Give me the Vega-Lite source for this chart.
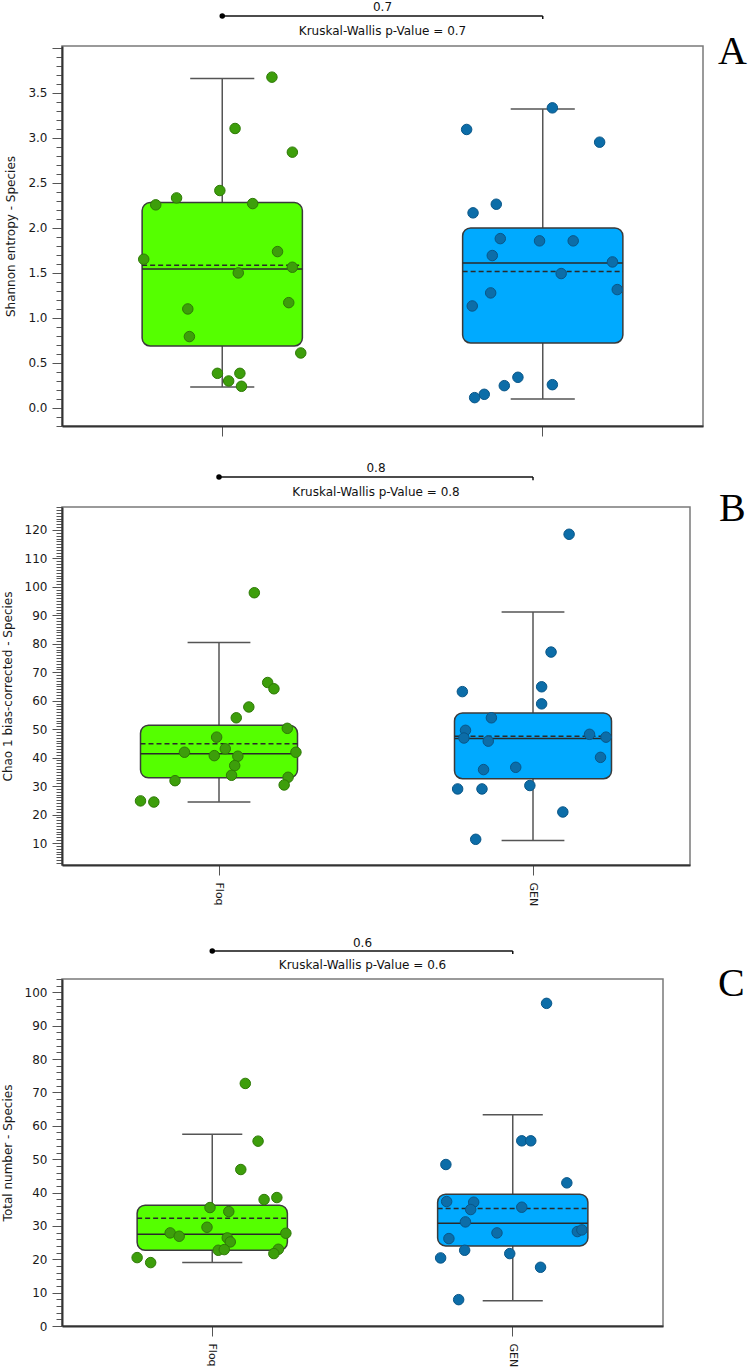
{
  "$schema": "https://vega.github.io/schema/vega-lite/v6.json",
  "background": "white",
  "padding": {"left": 0, "top": 0, "right": 0, "bottom": 0},
  "spacing": 23,
  "config": {
    "font": "DejaVu Sans",
    "view": {"stroke": "#7a7a7a", "strokeWidth": 1.5},
    "axis": {"labelFont": "DejaVu Sans", "titleFont": "DejaVu Sans", "labelColor": "#1a1a1a", "titleColor": "#1a1a1a", "domainColor": "#333", "domainWidth": 2, "tickColor": "#555", "tickWidth": 1, "grid": false, "titleFontWeight": "normal"}
  },
  "datasets": {
    "statsA": [
      {"group": "Floq", "lo": 0.233, "q1": 0.689, "med": 1.544, "mean": 1.585, "q3": 2.281, "hi": 3.659},
      {"group": "GEN", "lo": 0.1, "q1": 0.722, "med": 1.611, "mean": 1.515, "q3": 2.0, "hi": 3.319}
    ],
    "ptsA": [
      {"group": "Floq", "jit": 0.62, "v": 3.674}, {"group": "Floq", "jit": 0.16, "v": 3.104}, {"group": "Floq", "jit": 0.875, "v": 2.841},
      {"group": "Floq", "jit": -0.03, "v": 2.415}, {"group": "Floq", "jit": -0.57, "v": 2.333}, {"group": "Floq", "jit": -0.83, "v": 2.256},
      {"group": "Floq", "jit": 0.38, "v": 2.27}, {"group": "Floq", "jit": 0.69, "v": 1.737}, {"group": "Floq", "jit": -0.98, "v": 1.652},
      {"group": "Floq", "jit": 0.875, "v": 1.563}, {"group": "Floq", "jit": 0.2, "v": 1.5}, {"group": "Floq", "jit": -0.43, "v": 1.1},
      {"group": "Floq", "jit": 0.83, "v": 1.17}, {"group": "Floq", "jit": -0.41, "v": 0.793}, {"group": "Floq", "jit": 0.98, "v": 0.611},
      {"group": "Floq", "jit": -0.06, "v": 0.385}, {"group": "Floq", "jit": 0.22, "v": 0.385}, {"group": "Floq", "jit": 0.08, "v": 0.3},
      {"group": "Floq", "jit": 0.24, "v": 0.241},
      {"group": "GEN", "jit": 0.12, "v": 3.333}, {"group": "GEN", "jit": -0.95, "v": 3.093}, {"group": "GEN", "jit": 0.71, "v": 2.952},
      {"group": "GEN", "jit": -0.58, "v": 2.263}, {"group": "GEN", "jit": -0.87, "v": 2.167}, {"group": "GEN", "jit": -0.53, "v": 1.881},
      {"group": "GEN", "jit": -0.04, "v": 1.856}, {"group": "GEN", "jit": 0.38, "v": 1.856}, {"group": "GEN", "jit": -0.63, "v": 1.693},
      {"group": "GEN", "jit": 0.87, "v": 1.622}, {"group": "GEN", "jit": 0.23, "v": 1.493}, {"group": "GEN", "jit": 0.93, "v": 1.315},
      {"group": "GEN", "jit": -0.65, "v": 1.278}, {"group": "GEN", "jit": -0.88, "v": 1.133}, {"group": "GEN", "jit": -0.31, "v": 0.341},
      {"group": "GEN", "jit": 0.12, "v": 0.259}, {"group": "GEN", "jit": -0.48, "v": 0.248}, {"group": "GEN", "jit": -0.73, "v": 0.152},
      {"group": "GEN", "jit": -0.85, "v": 0.115}
    ],
    "annA": [{"g1": "Floq", "g2": "GEN", "p": "0.7", "test": "Kruskal-Wallis p-Value = 0.7", "panel": "A"}],
    "statsB": [
      {"group": "Floq", "lo": 24.4, "q1": 32.9, "med": 41.4, "mean": 44.9, "q3": 51.4, "hi": 80.5},
      {"group": "GEN", "lo": 10.9, "q1": 32.6, "med": 46.7, "mean": 47.5, "q3": 55.7, "hi": 91.2}
    ],
    "ptsB": [
      {"group": "Floq", "jit": 0.45, "v": 97.95}, {"group": "Floq", "jit": 0.62, "v": 66.4}, {"group": "Floq", "jit": 0.7, "v": 64.2},
      {"group": "Floq", "jit": 0.38, "v": 57.8}, {"group": "Floq", "jit": 0.22, "v": 54.0}, {"group": "Floq", "jit": 0.87, "v": 50.3},
      {"group": "Floq", "jit": -0.03, "v": 47.2}, {"group": "Floq", "jit": 0.08, "v": 43.1}, {"group": "Floq", "jit": -0.44, "v": 41.9},
      {"group": "Floq", "jit": 0.98, "v": 41.9}, {"group": "Floq", "jit": -0.06, "v": 40.7}, {"group": "Floq", "jit": 0.24, "v": 40.5},
      {"group": "Floq", "jit": 0.2, "v": 37.2}, {"group": "Floq", "jit": 0.16, "v": 33.8}, {"group": "Floq", "jit": -0.56, "v": 31.9},
      {"group": "Floq", "jit": 0.88, "v": 33.1}, {"group": "Floq", "jit": 0.83, "v": 30.4}, {"group": "Floq", "jit": -1.0, "v": 24.8},
      {"group": "Floq", "jit": -0.83, "v": 24.4},
      {"group": "GEN", "jit": 0.46, "v": 118.5}, {"group": "GEN", "jit": 0.23, "v": 77.1}, {"group": "GEN", "jit": -0.9, "v": 63.2},
      {"group": "GEN", "jit": 0.11, "v": 64.9}, {"group": "GEN", "jit": 0.11, "v": 58.9}, {"group": "GEN", "jit": -0.53, "v": 54.0},
      {"group": "GEN", "jit": -0.86, "v": 49.6}, {"group": "GEN", "jit": -0.88, "v": 46.9}, {"group": "GEN", "jit": -0.57, "v": 45.8},
      {"group": "GEN", "jit": 0.72, "v": 48.2}, {"group": "GEN", "jit": 0.93, "v": 47.2}, {"group": "GEN", "jit": 0.86, "v": 40.1},
      {"group": "GEN", "jit": -0.63, "v": 35.8}, {"group": "GEN", "jit": -0.22, "v": 36.6}, {"group": "GEN", "jit": -0.04, "v": 30.2},
      {"group": "GEN", "jit": -0.96, "v": 29.0}, {"group": "GEN", "jit": -0.65, "v": 29.0}, {"group": "GEN", "jit": 0.38, "v": 20.9},
      {"group": "GEN", "jit": -0.73, "v": 11.3}
    ],
    "annB": [{"g1": "Floq", "g2": "GEN", "p": "0.8", "test": "Kruskal-Wallis p-Value = 0.8", "panel": "B"}],
    "statsC": [
      {"group": "Floq", "lo": 19.0, "q1": 22.7, "med": 27.5, "mean": 32.3, "q3": 36.2, "hi": 57.5},
      {"group": "GEN", "lo": 7.6, "q1": 24.0, "med": 30.8, "mean": 35.2, "q3": 39.5, "hi": 63.3}
    ],
    "ptsC": [
      {"group": "Floq", "jit": 0.44, "v": 72.7}, {"group": "Floq", "jit": 0.61, "v": 55.4}, {"group": "Floq", "jit": 0.38, "v": 46.9},
      {"group": "Floq", "jit": 0.86, "v": 38.5}, {"group": "Floq", "jit": 0.69, "v": 37.9}, {"group": "Floq", "jit": -0.03, "v": 35.5},
      {"group": "Floq", "jit": 0.22, "v": 34.3}, {"group": "Floq", "jit": -0.07, "v": 29.6}, {"group": "Floq", "jit": -0.56, "v": 27.9},
      {"group": "Floq", "jit": -0.44, "v": 26.9}, {"group": "Floq", "jit": 0.98, "v": 27.8}, {"group": "Floq", "jit": 0.2, "v": 26.4},
      {"group": "Floq", "jit": 0.24, "v": 25.2}, {"group": "Floq", "jit": 0.08, "v": 22.7}, {"group": "Floq", "jit": 0.16, "v": 22.9},
      {"group": "Floq", "jit": 0.88, "v": 23.0}, {"group": "Floq", "jit": 0.82, "v": 21.7}, {"group": "Floq", "jit": -1.0, "v": 20.5},
      {"group": "Floq", "jit": -0.82, "v": 19.0},
      {"group": "GEN", "jit": 0.45, "v": 96.7}, {"group": "GEN", "jit": 0.12, "v": 55.5}, {"group": "GEN", "jit": 0.24, "v": 55.5},
      {"group": "GEN", "jit": -0.89, "v": 48.4}, {"group": "GEN", "jit": 0.72, "v": 42.9}, {"group": "GEN", "jit": -0.88, "v": 37.3},
      {"group": "GEN", "jit": -0.52, "v": 37.1}, {"group": "GEN", "jit": -0.56, "v": 34.9}, {"group": "GEN", "jit": 0.12, "v": 35.6},
      {"group": "GEN", "jit": -0.63, "v": 31.2}, {"group": "GEN", "jit": -0.21, "v": 27.9}, {"group": "GEN", "jit": 0.86, "v": 28.3},
      {"group": "GEN", "jit": 0.92, "v": 28.8}, {"group": "GEN", "jit": -0.85, "v": 26.2}, {"group": "GEN", "jit": -0.64, "v": 22.7},
      {"group": "GEN", "jit": -0.04, "v": 21.7}, {"group": "GEN", "jit": -0.96, "v": 20.4}, {"group": "GEN", "jit": 0.37, "v": 17.6},
      {"group": "GEN", "jit": -0.72, "v": 7.9}
    ],
    "annC": [{"g1": "Floq", "g2": "GEN", "p": "0.6", "test": "Kruskal-Wallis p-Value = 0.6", "panel": "C"}]
  },
  "vconcat": [
    {
      "width": 641, "height": 380,
      "resolve": {"scale": {"xOffset": "independent"}},
      "layer": [
        {"data": {"name": "statsA"}, "mark": {"type": "rule", "color": "#555", "strokeWidth": 1.5},
         "encoding": {
           "x": {"field": "group", "type": "nominal", "scale": {"type": "band", "domain": ["Floq", "GEN"], "paddingInner": 0, "paddingOuter": 0},
                 "axis": {"title": null, "labels": false, "tickSize": 10}},
           "y": {"field": "lo", "type": "quantitative", "scale": {"domain": [-0.2, 4.02], "nice": false, "zero": false},
                 "axis": {"title": "Shannon entropy - Species", "titleFontSize": 12, "titlePadding": 10, "labelFontSize": 12, "labelPadding": 5,
                          "tickCount": 42, "format": ".1f", "labelOverlap": false, "labelFlush": false, "labelBound": false,
                          "labelExpr": "abs(datum.value*2-round(datum.value*2))<0.000001 && datum.value>-0.01 && datum.value<3.9 ? datum.label : ''",
                          "tickSize": {"condition": {"test": "abs(datum.value*2-round(datum.value*2))<0.000001", "value": 10}, "value": 6}}},
           "y2": {"field": "hi"}}},
        {"data": {"name": "statsA"}, "mark": {"type": "rule", "color": "#555", "strokeWidth": 1.5},
         "encoding": {
           "x": {"field": "group", "type": "nominal", "bandPosition": 0.4, "scale": {"type": "band", "domain": ["Floq", "GEN"], "paddingInner": 0, "paddingOuter": 0}},
           "x2": {"field": "group", "bandPosition": 0.6},
           "y": {"field": "lo", "type": "quantitative", "scale": {"domain": [-0.2, 4.02], "nice": false, "zero": false}}}},
        {"data": {"name": "statsA"}, "mark": {"type": "rule", "color": "#555", "strokeWidth": 1.5},
         "encoding": {
           "x": {"field": "group", "type": "nominal", "bandPosition": 0.4, "scale": {"type": "band", "domain": ["Floq", "GEN"], "paddingInner": 0, "paddingOuter": 0}},
           "x2": {"field": "group", "bandPosition": 0.6},
           "y": {"field": "hi", "type": "quantitative", "scale": {"domain": [-0.2, 4.02], "nice": false, "zero": false}}}},
        {"data": {"name": "statsA"}, "mark": {"type": "bar", "width": {"band": 0.5}, "cornerRadius": 8, "stroke": "#3a3a3a", "strokeWidth": 1.5},
         "encoding": {
           "x": {"field": "group", "type": "nominal", "scale": {"type": "band", "domain": ["Floq", "GEN"], "paddingInner": 0, "paddingOuter": 0}},
           "y": {"field": "q1", "type": "quantitative", "scale": {"domain": [-0.2, 4.02], "nice": false, "zero": false}},
           "y2": {"field": "q3"},
           "fill": {"field": "group", "type": "nominal", "scale": {"domain": ["Floq", "GEN"], "range": ["#55FF00", "#00AAFF"]}, "legend": null}}},
        {"data": {"name": "statsA"}, "mark": {"type": "rule", "color": "#2a2a2a", "strokeWidth": 1.5},
         "encoding": {
           "x": {"field": "group", "type": "nominal", "bandPosition": 0.25, "scale": {"type": "band", "domain": ["Floq", "GEN"], "paddingInner": 0, "paddingOuter": 0}},
           "x2": {"field": "group", "bandPosition": 0.75},
           "y": {"field": "med", "type": "quantitative", "scale": {"domain": [-0.2, 4.02], "nice": false, "zero": false}}}},
        {"data": {"name": "statsA"}, "mark": {"type": "rule", "color": "#2a2a2a", "strokeWidth": 1.5, "strokeDash": [5, 3]},
         "encoding": {
           "x": {"field": "group", "type": "nominal", "bandPosition": 0.25, "scale": {"type": "band", "domain": ["Floq", "GEN"], "paddingInner": 0, "paddingOuter": 0}},
           "x2": {"field": "group", "bandPosition": 0.75},
           "y": {"field": "mean", "type": "quantitative", "scale": {"domain": [-0.2, 4.02], "nice": false, "zero": false}}}},
        {"data": {"name": "ptsA"}, "mark": {"type": "circle", "size": 110, "opacity": 1, "strokeWidth": 1},
         "encoding": {
           "x": {"field": "group", "type": "nominal", "scale": {"type": "band", "domain": ["Floq", "GEN"], "paddingInner": 0, "paddingOuter": 0}},
           "xOffset": {"field": "jit", "type": "quantitative", "scale": {"domain": [-2, 2]}},
           "y": {"field": "v", "type": "quantitative", "scale": {"domain": [-0.2, 4.02], "nice": false, "zero": false}},
           "color": {"field": "group", "type": "nominal", "scale": {"domain": ["Floq", "GEN"], "range": ["#3D9E0B", "#0C6DA8"]}, "legend": null},
           "stroke": {"field": "group", "type": "nominal", "scale": {"domain": ["Floq", "GEN"], "range": ["#2E7A06", "#095688"]}, "legend": null}}},
        {"data": {"name": "annA"}, "mark": {"type": "rule", "color": "#111", "strokeWidth": 1.5, "clip": false},
         "encoding": {
           "x": {"field": "g1", "type": "nominal", "bandPosition": 0.5, "scale": {"type": "band", "domain": ["Floq", "GEN"], "paddingInner": 0, "paddingOuter": 0}},
           "x2": {"field": "g2", "bandPosition": 0.5},
           "y": {"datum": 4.352, "type": "quantitative", "scale": {"domain": [-0.2, 4.02], "nice": false, "zero": false}}}},
        {"data": {"name": "annA"}, "mark": {"type": "rule", "color": "#111", "strokeWidth": 1.5, "clip": false},
         "encoding": {
           "x": {"field": "g2", "type": "nominal", "bandPosition": 0.5, "scale": {"type": "band", "domain": ["Floq", "GEN"], "paddingInner": 0, "paddingOuter": 0}},
           "y": {"datum": 4.352, "type": "quantitative", "scale": {"domain": [-0.2, 4.02], "nice": false, "zero": false}},
           "y2": {"datum": 4.32}}},
        {"data": {"name": "annA"}, "mark": {"type": "circle", "size": 30, "color": "#000", "opacity": 1, "clip": false},
         "encoding": {
           "x": {"field": "g1", "type": "nominal", "bandPosition": 0.5, "scale": {"type": "band", "domain": ["Floq", "GEN"], "paddingInner": 0, "paddingOuter": 0}},
           "y": {"datum": 4.352, "type": "quantitative", "scale": {"domain": [-0.2, 4.02], "nice": false, "zero": false}}}},
        {"data": {"name": "annA"}, "mark": {"type": "text", "fontSize": 12, "color": "#111", "align": "center", "baseline": "middle", "clip": false},
         "encoding": {
           "x": {"field": "g1", "type": "nominal", "bandPosition": 1, "scale": {"type": "band", "domain": ["Floq", "GEN"], "paddingInner": 0, "paddingOuter": 0}},
           "y": {"datum": 4.45, "type": "quantitative", "scale": {"domain": [-0.2, 4.02], "nice": false, "zero": false}},
           "text": {"field": "p"}}},
        {"data": {"name": "annA"}, "mark": {"type": "text", "fontSize": 12, "color": "#111", "align": "center", "baseline": "middle", "clip": false},
         "encoding": {
           "x": {"field": "g1", "type": "nominal", "bandPosition": 1, "scale": {"type": "band", "domain": ["Floq", "GEN"], "paddingInner": 0, "paddingOuter": 0}},
           "y": {"datum": 4.186, "type": "quantitative", "scale": {"domain": [-0.2, 4.02], "nice": false, "zero": false}},
           "text": {"field": "test"}}},
        {"data": {"name": "annA"}, "mark": {"type": "text", "font": "Liberation Serif", "fontSize": 40, "color": "#000", "align": "left", "baseline": "alphabetic", "dx": 15, "clip": false},
         "encoding": {
           "x": {"field": "g2", "type": "nominal", "bandPosition": 1, "scale": {"type": "band", "domain": ["Floq", "GEN"], "paddingInner": 0, "paddingOuter": 0}},
           "y": {"datum": 3.82, "type": "quantitative", "scale": {"domain": [-0.2, 4.02], "nice": false, "zero": false}},
           "text": {"field": "panel"}}}
      ]
    },
    {
      "width": 628, "height": 358,
      "resolve": {"scale": {"xOffset": "independent"}},
      "layer": [
        {"data": {"name": "statsB"}, "mark": {"type": "rule", "color": "#555", "strokeWidth": 1.5},
         "encoding": {
           "x": {"field": "group", "type": "nominal", "scale": {"type": "band", "domain": ["Floq", "GEN"], "paddingInner": 0, "paddingOuter": 0},
                 "axis": {"title": " ", "titleFontSize": 4, "titlePadding": 2, "labelAngle": 90, "labelFontSize": 11, "labelPadding": 7, "tickSize": 10}},
           "y": {"field": "lo", "type": "quantitative", "scale": {"domain": [2.27, 128.08], "nice": false, "zero": false},
                 "axis": {"title": "Chao 1 bias-corrected - Species", "titleFontSize": 12, "titlePadding": 10, "labelFontSize": 12, "labelPadding": 5,
                          "tickCount": 126, "labelOverlap": false, "labelFlush": false, "labelBound": false,
                          "labelExpr": "datum.value % 10 === 0 && datum.value <= 120 ? datum.label : ''",
                          "tickSize": {"condition": {"test": "datum.value % 10 === 0", "value": 10}, "value": 6}}},
           "y2": {"field": "hi"}}},
        {"data": {"name": "statsB"}, "mark": {"type": "rule", "color": "#555", "strokeWidth": 1.5},
         "encoding": {
           "x": {"field": "group", "type": "nominal", "bandPosition": 0.4, "scale": {"type": "band", "domain": ["Floq", "GEN"], "paddingInner": 0, "paddingOuter": 0}},
           "x2": {"field": "group", "bandPosition": 0.6},
           "y": {"field": "lo", "type": "quantitative", "scale": {"domain": [2.27, 128.08], "nice": false, "zero": false}}}},
        {"data": {"name": "statsB"}, "mark": {"type": "rule", "color": "#555", "strokeWidth": 1.5},
         "encoding": {
           "x": {"field": "group", "type": "nominal", "bandPosition": 0.4, "scale": {"type": "band", "domain": ["Floq", "GEN"], "paddingInner": 0, "paddingOuter": 0}},
           "x2": {"field": "group", "bandPosition": 0.6},
           "y": {"field": "hi", "type": "quantitative", "scale": {"domain": [2.27, 128.08], "nice": false, "zero": false}}}},
        {"data": {"name": "statsB"}, "mark": {"type": "bar", "width": {"band": 0.5}, "cornerRadius": 8, "stroke": "#3a3a3a", "strokeWidth": 1.5},
         "encoding": {
           "x": {"field": "group", "type": "nominal", "scale": {"type": "band", "domain": ["Floq", "GEN"], "paddingInner": 0, "paddingOuter": 0}},
           "y": {"field": "q1", "type": "quantitative", "scale": {"domain": [2.27, 128.08], "nice": false, "zero": false}},
           "y2": {"field": "q3"},
           "fill": {"field": "group", "type": "nominal", "scale": {"domain": ["Floq", "GEN"], "range": ["#55FF00", "#00AAFF"]}, "legend": null}}},
        {"data": {"name": "statsB"}, "mark": {"type": "rule", "color": "#2a2a2a", "strokeWidth": 1.5},
         "encoding": {
           "x": {"field": "group", "type": "nominal", "bandPosition": 0.25, "scale": {"type": "band", "domain": ["Floq", "GEN"], "paddingInner": 0, "paddingOuter": 0}},
           "x2": {"field": "group", "bandPosition": 0.75},
           "y": {"field": "med", "type": "quantitative", "scale": {"domain": [2.27, 128.08], "nice": false, "zero": false}}}},
        {"data": {"name": "statsB"}, "mark": {"type": "rule", "color": "#2a2a2a", "strokeWidth": 1.5, "strokeDash": [5, 3]},
         "encoding": {
           "x": {"field": "group", "type": "nominal", "bandPosition": 0.25, "scale": {"type": "band", "domain": ["Floq", "GEN"], "paddingInner": 0, "paddingOuter": 0}},
           "x2": {"field": "group", "bandPosition": 0.75},
           "y": {"field": "mean", "type": "quantitative", "scale": {"domain": [2.27, 128.08], "nice": false, "zero": false}}}},
        {"data": {"name": "ptsB"}, "mark": {"type": "circle", "size": 110, "opacity": 1, "strokeWidth": 1},
         "encoding": {
           "x": {"field": "group", "type": "nominal", "scale": {"type": "band", "domain": ["Floq", "GEN"], "paddingInner": 0, "paddingOuter": 0}},
           "xOffset": {"field": "jit", "type": "quantitative", "scale": {"domain": [-2, 2]}},
           "y": {"field": "v", "type": "quantitative", "scale": {"domain": [2.27, 128.08], "nice": false, "zero": false}},
           "color": {"field": "group", "type": "nominal", "scale": {"domain": ["Floq", "GEN"], "range": ["#3D9E0B", "#0C6DA8"]}, "legend": null},
           "stroke": {"field": "group", "type": "nominal", "scale": {"domain": ["Floq", "GEN"], "range": ["#2E7A06", "#095688"]}, "legend": null}}},
        {"data": {"name": "annB"}, "mark": {"type": "rule", "color": "#111", "strokeWidth": 1.5, "clip": false},
         "encoding": {
           "x": {"field": "g1", "type": "nominal", "bandPosition": 0.5, "scale": {"type": "band", "domain": ["Floq", "GEN"], "paddingInner": 0, "paddingOuter": 0}},
           "x2": {"field": "g2", "bandPosition": 0.5},
           "y": {"datum": 138.6, "type": "quantitative", "scale": {"domain": [2.27, 128.08], "nice": false, "zero": false}}}},
        {"data": {"name": "annB"}, "mark": {"type": "rule", "color": "#111", "strokeWidth": 1.5, "clip": false},
         "encoding": {
           "x": {"field": "g2", "type": "nominal", "bandPosition": 0.5, "scale": {"type": "band", "domain": ["Floq", "GEN"], "paddingInner": 0, "paddingOuter": 0}},
           "y": {"datum": 138.6, "type": "quantitative", "scale": {"domain": [2.27, 128.08], "nice": false, "zero": false}},
           "y2": {"datum": 137.5}}},
        {"data": {"name": "annB"}, "mark": {"type": "circle", "size": 30, "color": "#000", "opacity": 1, "clip": false},
         "encoding": {
           "x": {"field": "g1", "type": "nominal", "bandPosition": 0.5, "scale": {"type": "band", "domain": ["Floq", "GEN"], "paddingInner": 0, "paddingOuter": 0}},
           "y": {"datum": 138.6, "type": "quantitative", "scale": {"domain": [2.27, 128.08], "nice": false, "zero": false}}}},
        {"data": {"name": "annB"}, "mark": {"type": "text", "fontSize": 12, "color": "#111", "align": "center", "baseline": "middle", "clip": false},
         "encoding": {
           "x": {"field": "g1", "type": "nominal", "bandPosition": 1, "scale": {"type": "band", "domain": ["Floq", "GEN"], "paddingInner": 0, "paddingOuter": 0}},
           "y": {"datum": 141.8, "type": "quantitative", "scale": {"domain": [2.27, 128.08], "nice": false, "zero": false}},
           "text": {"field": "p"}}},
        {"data": {"name": "annB"}, "mark": {"type": "text", "fontSize": 12, "color": "#111", "align": "center", "baseline": "middle", "clip": false},
         "encoding": {
           "x": {"field": "g1", "type": "nominal", "bandPosition": 1, "scale": {"type": "band", "domain": ["Floq", "GEN"], "paddingInner": 0, "paddingOuter": 0}},
           "y": {"datum": 133.4, "type": "quantitative", "scale": {"domain": [2.27, 128.08], "nice": false, "zero": false}},
           "text": {"field": "test"}}},
        {"data": {"name": "annB"}, "mark": {"type": "text", "font": "Liberation Serif", "fontSize": 40, "color": "#000", "align": "left", "baseline": "alphabetic", "dx": 29, "clip": false},
         "encoding": {
           "x": {"field": "g2", "type": "nominal", "bandPosition": 1, "scale": {"type": "band", "domain": ["Floq", "GEN"], "paddingInner": 0, "paddingOuter": 0}},
           "y": {"datum": 123.2, "type": "quantitative", "scale": {"domain": [2.27, 128.08], "nice": false, "zero": false}},
           "text": {"field": "panel"}}}
      ]
    },
    {
      "width": 601, "height": 347,
      "resolve": {"scale": {"xOffset": "independent"}},
      "layer": [
        {"data": {"name": "statsC"}, "mark": {"type": "rule", "color": "#555", "strokeWidth": 1.5},
         "encoding": {
           "x": {"field": "group", "type": "nominal", "scale": {"type": "band", "domain": ["Floq", "GEN"], "paddingInner": 0, "paddingOuter": 0},
                 "axis": {"title": null, "labelAngle": 90, "labelFontSize": 11, "labelPadding": 7, "tickSize": 10}},
           "y": {"field": "lo", "type": "quantitative", "scale": {"domain": [0, 104], "nice": false, "zero": false},
                 "axis": {"title": "Total number - Species", "titleFontSize": 12, "titlePadding": 10, "labelFontSize": 12, "labelPadding": 5,
                          "tickCount": 52, "labelOverlap": false, "labelFlush": false, "labelBound": false,
                          "labelExpr": "datum.value % 10 === 0 && datum.value <= 100 ? datum.label : ''",
                          "tickSize": {"condition": {"test": "datum.value % 10 === 0", "value": 10}, "value": 6}}},
           "y2": {"field": "hi"}}},
        {"data": {"name": "statsC"}, "mark": {"type": "rule", "color": "#555", "strokeWidth": 1.5},
         "encoding": {
           "x": {"field": "group", "type": "nominal", "bandPosition": 0.4, "scale": {"type": "band", "domain": ["Floq", "GEN"], "paddingInner": 0, "paddingOuter": 0}},
           "x2": {"field": "group", "bandPosition": 0.6},
           "y": {"field": "lo", "type": "quantitative", "scale": {"domain": [0, 104], "nice": false, "zero": false}}}},
        {"data": {"name": "statsC"}, "mark": {"type": "rule", "color": "#555", "strokeWidth": 1.5},
         "encoding": {
           "x": {"field": "group", "type": "nominal", "bandPosition": 0.4, "scale": {"type": "band", "domain": ["Floq", "GEN"], "paddingInner": 0, "paddingOuter": 0}},
           "x2": {"field": "group", "bandPosition": 0.6},
           "y": {"field": "hi", "type": "quantitative", "scale": {"domain": [0, 104], "nice": false, "zero": false}}}},
        {"data": {"name": "statsC"}, "mark": {"type": "bar", "width": {"band": 0.5}, "cornerRadius": 8, "stroke": "#3a3a3a", "strokeWidth": 1.5},
         "encoding": {
           "x": {"field": "group", "type": "nominal", "scale": {"type": "band", "domain": ["Floq", "GEN"], "paddingInner": 0, "paddingOuter": 0}},
           "y": {"field": "q1", "type": "quantitative", "scale": {"domain": [0, 104], "nice": false, "zero": false}},
           "y2": {"field": "q3"},
           "fill": {"field": "group", "type": "nominal", "scale": {"domain": ["Floq", "GEN"], "range": ["#55FF00", "#00AAFF"]}, "legend": null}}},
        {"data": {"name": "statsC"}, "mark": {"type": "rule", "color": "#2a2a2a", "strokeWidth": 1.5},
         "encoding": {
           "x": {"field": "group", "type": "nominal", "bandPosition": 0.25, "scale": {"type": "band", "domain": ["Floq", "GEN"], "paddingInner": 0, "paddingOuter": 0}},
           "x2": {"field": "group", "bandPosition": 0.75},
           "y": {"field": "med", "type": "quantitative", "scale": {"domain": [0, 104], "nice": false, "zero": false}}}},
        {"data": {"name": "statsC"}, "mark": {"type": "rule", "color": "#2a2a2a", "strokeWidth": 1.5, "strokeDash": [5, 3]},
         "encoding": {
           "x": {"field": "group", "type": "nominal", "bandPosition": 0.25, "scale": {"type": "band", "domain": ["Floq", "GEN"], "paddingInner": 0, "paddingOuter": 0}},
           "x2": {"field": "group", "bandPosition": 0.75},
           "y": {"field": "mean", "type": "quantitative", "scale": {"domain": [0, 104], "nice": false, "zero": false}}}},
        {"data": {"name": "ptsC"}, "mark": {"type": "circle", "size": 110, "opacity": 1, "strokeWidth": 1},
         "encoding": {
           "x": {"field": "group", "type": "nominal", "scale": {"type": "band", "domain": ["Floq", "GEN"], "paddingInner": 0, "paddingOuter": 0}},
           "xOffset": {"field": "jit", "type": "quantitative", "scale": {"domain": [-2, 2]}},
           "y": {"field": "v", "type": "quantitative", "scale": {"domain": [0, 104], "nice": false, "zero": false}},
           "color": {"field": "group", "type": "nominal", "scale": {"domain": ["Floq", "GEN"], "range": ["#3D9E0B", "#0C6DA8"]}, "legend": null},
           "stroke": {"field": "group", "type": "nominal", "scale": {"domain": ["Floq", "GEN"], "range": ["#2E7A06", "#095688"]}, "legend": null}}},
        {"data": {"name": "annC"}, "mark": {"type": "rule", "color": "#111", "strokeWidth": 1.5, "clip": false},
         "encoding": {
           "x": {"field": "g1", "type": "nominal", "bandPosition": 0.5, "scale": {"type": "band", "domain": ["Floq", "GEN"], "paddingInner": 0, "paddingOuter": 0}},
           "x2": {"field": "g2", "bandPosition": 0.5},
           "y": {"datum": 112.4, "type": "quantitative", "scale": {"domain": [0, 104], "nice": false, "zero": false}}}},
        {"data": {"name": "annC"}, "mark": {"type": "rule", "color": "#111", "strokeWidth": 1.5, "clip": false},
         "encoding": {
           "x": {"field": "g2", "type": "nominal", "bandPosition": 0.5, "scale": {"type": "band", "domain": ["Floq", "GEN"], "paddingInner": 0, "paddingOuter": 0}},
           "y": {"datum": 112.4, "type": "quantitative", "scale": {"domain": [0, 104], "nice": false, "zero": false}},
           "y2": {"datum": 111.5}}},
        {"data": {"name": "annC"}, "mark": {"type": "circle", "size": 30, "color": "#000", "opacity": 1, "clip": false},
         "encoding": {
           "x": {"field": "g1", "type": "nominal", "bandPosition": 0.5, "scale": {"type": "band", "domain": ["Floq", "GEN"], "paddingInner": 0, "paddingOuter": 0}},
           "y": {"datum": 112.4, "type": "quantitative", "scale": {"domain": [0, 104], "nice": false, "zero": false}}}},
        {"data": {"name": "annC"}, "mark": {"type": "text", "fontSize": 12, "color": "#111", "align": "center", "baseline": "middle", "clip": false},
         "encoding": {
           "x": {"field": "g1", "type": "nominal", "bandPosition": 1, "scale": {"type": "band", "domain": ["Floq", "GEN"], "paddingInner": 0, "paddingOuter": 0}},
           "y": {"datum": 114.8, "type": "quantitative", "scale": {"domain": [0, 104], "nice": false, "zero": false}},
           "text": {"field": "p"}}},
        {"data": {"name": "annC"}, "mark": {"type": "text", "fontSize": 12, "color": "#111", "align": "center", "baseline": "middle", "clip": false},
         "encoding": {
           "x": {"field": "g1", "type": "nominal", "bandPosition": 1, "scale": {"type": "band", "domain": ["Floq", "GEN"], "paddingInner": 0, "paddingOuter": 0}},
           "y": {"datum": 108.2, "type": "quantitative", "scale": {"domain": [0, 104], "nice": false, "zero": false}},
           "text": {"field": "test"}}},
        {"data": {"name": "annC"}, "mark": {"type": "text", "font": "Liberation Serif", "fontSize": 40, "color": "#000", "align": "left", "baseline": "alphabetic", "dx": 55, "clip": false},
         "encoding": {
           "x": {"field": "g2", "type": "nominal", "bandPosition": 1, "scale": {"type": "band", "domain": ["Floq", "GEN"], "paddingInner": 0, "paddingOuter": 0}},
           "y": {"datum": 98.8, "type": "quantitative", "scale": {"domain": [0, 104], "nice": false, "zero": false}},
           "text": {"field": "panel"}}}
      ]
    }
  ]
}
